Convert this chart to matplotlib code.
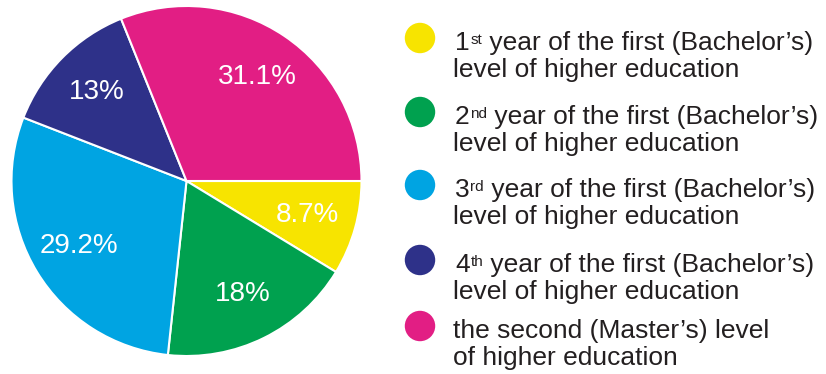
import matplotlib
matplotlib.use("Agg")
import matplotlib.pyplot as plt

plt.rcParams['font.family'] = ['Liberation Sans', 'DejaVu Sans']

# study levels, shares in percent
shares = [8.7, 18, 29.2, 13, 31.1]
# legend text: (number, ordinal suffix, rest of first line, second line)
label_num = ['1', '2', '3', '4', '']
label_sup = ['st', 'nd', 'rd', 'th', '']
label_line1 = [' year of the first (Bachelor\u2019s)'] * 4 + ['the second (Master\u2019s) level']
label_line2 = ['level of higher education'] * 4 + ['of higher education']
colors = ['#F7E400', '#00A14F', '#00A4E2', '#2E3189', '#E21E84']

W, H = 826, 374
fig = plt.figure(figsize=(W / 100, H / 100), dpi=100)

# pie, centre ~ (186, 181) px, radius ~175 px
cx, cy, r = 186.5, 181, 175
ax = fig.add_axes([(cx - r) / W, (H - cy - r) / H, 2 * r / W, 2 * r / H])
wedges, _, autotexts = ax.pie(
    shares, colors=colors, startangle=0, counterclock=False,
    autopct=lambda p: '%g%%' % round(p, 1), pctdistance=0.72,
    wedgeprops=dict(edgecolor='white', linewidth=1.5),
    textprops=dict(color='white', fontsize=20))
ax.set_xlim(-1, 1)
ax.set_ylim(-1, 1)

# legend drawn by hand, pixel coordinates
lax = fig.add_axes([0, 0, 1, 1])
lax.set_xlim(0, W)
lax.set_ylim(H, 0)
lax.axis('off')
row_y = [38, 112, 185, 260, 326]
fs = 19
tc = '#231F20'
tx = 455
for y, c, num, sup, l1, l2 in zip(row_y, colors, label_num, label_sup,
                                  label_line1, label_line2):
    lax.scatter([420], [y], s=480, color=c, edgecolors='none')
    base = y + 12
    if num:
        t_num = lax.text(tx, base, num, fontsize=fs, color=tc, va='baseline')
        t_sup = lax.annotate(sup, xy=(1, 1), xycoords=t_num, xytext=(0.5, -1.5),
                             textcoords='offset points', fontsize=11, color=tc,
                             va='top', ha='left')
        lax.annotate(l1, xy=(1, base), xycoords=(t_sup, 'data'),
                     fontsize=fs, color=tc, va='baseline', ha='left')
    else:
        lax.text(tx - 2, base, l1, fontsize=fs, color=tc, va='baseline')
    lax.text(tx - 2, base + 27, l2, fontsize=fs, color=tc, va='baseline')

fig.savefig('out.png', dpi=100, facecolor='white')
